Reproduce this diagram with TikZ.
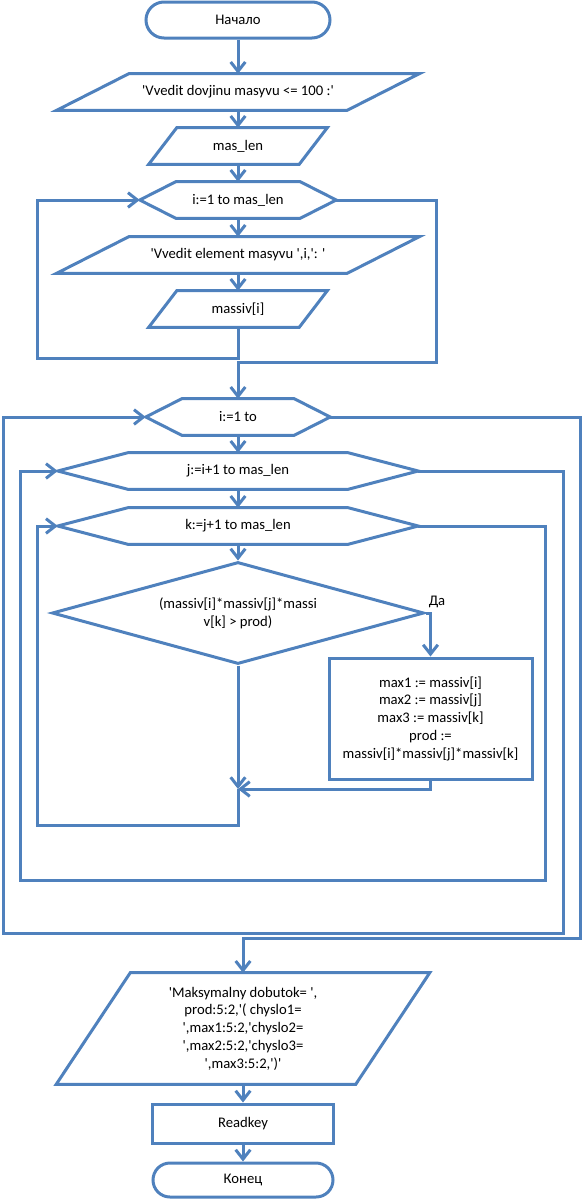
\documentclass[tikz,border=0pt]{standalone}
\usepackage{fontspec}
\setmainfont{Carlito}[Ligatures=TeXOff]
\usetikzlibrary{arrows.meta,calc,shapes.geometric}
\definecolor{lnc}{RGB}{79,129,189}
\newcommand\iooutline[2]{%
  \draw[outl] ($(#1.north west)+(#2,0)$) -- ($(#1.north east)+(#2,0)$) -- ($(#1.south east)-(#2,0)$) -- ($(#1.south west)-(#2,0)$) -- cycle;}
\newcommand\hexoutline[2]{%
  \draw[outl] (#1.north west) -- (#1.north east) -- ($(#1.east)+(#2,0)$) coordinate (#1-r) -- (#1.south east) -- (#1.south west) -- ($(#1.west)-(#2,0)$) coordinate (#1-l) -- cycle;}
\begin{document}
\begin{tikzpicture}[x=0.75pt,y=-0.75pt,
  outl/.style={draw=lnc, line width=2.25pt},
  conn/.style={draw=lnc, line width=2.25pt},
  arr/.style={conn, -{Straight Barb[length=7pt,width=11pt]}},
  txt/.style={inner sep=0pt, align=center, font=\fontsize{11pt}{13.3pt}\selectfont},
  termbox/.style={txt, draw=lnc, line width=2.25pt},
  procbox/.style={txt, draw=lnc, line width=2.25pt},
  shapebox/.style={txt, minimum height=27pt},
  decbox/.style={txt, shape=diamond, draw=lnc, line width=2.25pt}]
\useasboundingbox (0,0) rectangle (583,1200);

% nodes
\node[termbox, minimum width=138pt, minimum height=27pt, rounded corners=13.5pt] (start) at (238,20) {Начало};
\node[shapebox, minimum width=217.5pt] (io1) at (238,92) {'Vvedit dovjinu masyvu <= 100 :'};
\node[shapebox, minimum width=112.5pt] (io2) at (238,146) {mas\_len};
\node[shapebox, minimum width=93pt] (hex1) at (238,200) {i:=1 to mas\_len};
\node[shapebox, minimum width=217.5pt] (io3) at (238,255) {'Vvedit element masyvu ',i,': '};
\node[shapebox, minimum width=112.5pt] (io4) at (238,309) {massiv[i]};
\node[shapebox, minimum width=84pt] (hex2) at (238,417) {i:=1 to};
\node[shapebox, minimum width=165pt] (hex3) at (238,471) {j:=i+1 to mas\_len};
\node[shapebox, minimum width=165pt] (hex4) at (238,526) {k:=j+1 to mas\_len};
\node[decbox, minimum width=279pt, minimum height=76.5pt, aspect=3.65] (dec) at (238,613) {(massiv[i]*massiv[j]*massi\\v[k] > prod)};
\node[procbox, minimum width=152.25pt, minimum height=90.75pt] (upd) at (430.5,718.5) {max1 := massiv[i]\\max2 := massiv[j]\\max3 := massiv[k]\\prod :=\\massiv[i]*massiv[j]*massiv[k]};
\node[shapebox, minimum width=224.25pt, minimum height=83.25pt] (out) at (243,1028.5) {'Maksymalny dobutok= ',\\prod:5:2,'( chyslo1=\\',max1:5:2,'chyslo2=\\',max2:5:2,'chyslo3=\\',max3:5:2,')'};
\node[procbox, minimum width=135.75pt, minimum height=29.25pt] (rk) at (243,1123.5) {Readkey};
\node[termbox, minimum width=135pt, minimum height=25.5pt, rounded corners=12.75pt] (fin) at (243,1180) {Конец};
\node[txt, anchor=south west] (yes) at ($(dec.east)+(3,-5)$) {Да};

% outlines
\iooutline{io1}{36}
\iooutline{io2}{14}
\hexoutline{hex1}{36}
\iooutline{io3}{36}
\iooutline{io4}{14}
\hexoutline{hex2}{36}
\hexoutline{hex3}{70}
\hexoutline{hex4}{70}
\iooutline{out}{37}

% helper coordinates
\coordinate (l1b) at (37,358);
\coordinate (r1) at (436,362);
\coordinate (J) at (238,789);
\coordinate (kb) at (37,825);
\coordinate (kr) at (545,880);
\coordinate (kl) at (20,880);
\coordinate (jr) at (563,933);
\coordinate (jl) at (3,933);
\coordinate (ir) at (580,938);

% connectors
\draw[arr] (start.south) -- (io1.north);
\draw[arr] (io1.south) -- (io2.north);
\draw[arr] (io2.south) -- (hex1.north);
\draw[arr] (hex1.south) -- (io3.north);
\draw[arr] (io3.south) -- (io4.north);
\draw[arr] (io4.south) |- (l1b) |- (hex1-l);
\draw[arr] (hex1-r) -| (r1) -| (hex2.north);
\draw[arr] (hex2.south) -- (hex3.north);
\draw[arr] (hex3.south) -- (hex4.north);
\draw[arr] (hex4.south) -- (dec.north);
\draw[arr] (dec.east) -| (upd.north);
\draw[arr] (dec.south) -- (J);
\draw[arr] (upd.south) |- (J);
\draw[arr] (J) |- (kb) |- (hex4-l);
\draw[arr] (hex4-r) -| (kr) -- (kl) |- (hex3-l);
\draw[arr] (hex3-r) -| (jr) -- (jl) |- (hex2-l);
\draw[arr] (hex2-r) -| (ir) -| (out.north);
\draw[arr] (out.south) -- (rk.north);
\draw[arr] (rk.south) -- (fin.north);
\end{tikzpicture}
\end{document}
